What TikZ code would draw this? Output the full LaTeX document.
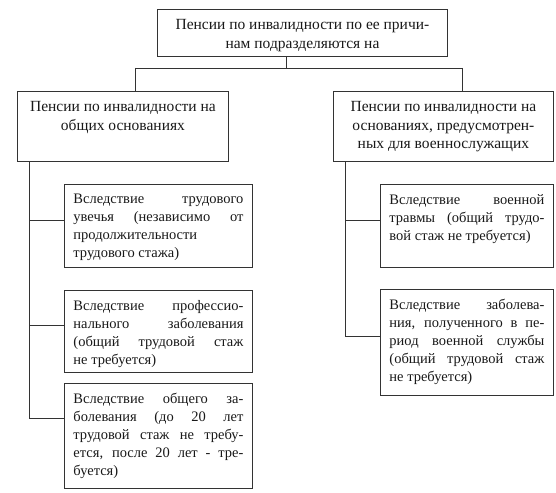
\documentclass[tikz,border=0pt]{standalone}
\usepackage{fontspec}
\setmainfont{Liberation Serif}
\newcommand{\boxtext}[3]{\parbox[t][#2][t]{#1}{\vspace*{10pt}#3}}
\begin{document}
\begin{tikzpicture}[x=1pt,y=-1pt]
        \tikzstyle{box}=[draw=black!80,line width=0.9pt,fill=white,inner xsep=9pt,inner ysep=0pt,anchor=north west,text=black!90,font=\fontsize{14.5}{18}\selectfont]
        \tikzstyle{head}=[box,font=\fontsize{15.5}{18.5}\selectfont]
        \tikzstyle{edge}=[draw=black!80,line width=0.9pt]
        \fill[white] (0,0) rectangle (556,492);
        \useasboundingbox (0,0) rectangle (556,492);
        % top
        \node [head] (top) at (157,9) {\boxtext{272pt}{47pt}{\centering Пенсии по инвалидности по ее причи-\\нам подразделяются на}};
        % two kinds
        \node [head] (gen) at (17,91) {\boxtext{193pt}{70pt}{\centering Пенсии по инвалидности на\\общих основаниях}};
        \node [head] (mil) at (333,91) {\boxtext{202pt}{70pt}{\centering Пенсии по инвалидности на\\основаниях, предусмотрен-\\ных для военнослужащих}};
        % general causes
        \node [box] (gen1) at (64,184) {\boxtext{170pt}{83pt}{Вследствие трудового\linebreak увечья (независимо от\linebreak продолжительности\newline трудового стажа)}};
        \node [box] (gen2) at (64,290) {\boxtext{170pt}{82pt}{Вследствие профессио-\linebreak нального заболевания\linebreak (общий трудовой стаж\linebreak не требуется)}};
        \node [box] (gen3) at (64,383) {\boxtext{170pt}{105pt}{Вследствие общего за-\linebreak болевания (до 20 лет\linebreak трудовой стаж не требу-\linebreak ется, после 20 лет - тре-\linebreak буется)}};
        % military causes
        \node [box] (mil1) at (380,184) {\boxtext{155pt}{83pt}{Вследствие военной\linebreak травмы (общий трудо-\linebreak вой стаж не требуется)}};
        \node [box] (mil2) at (380,289) {\boxtext{155pt}{106pt}{Вследствие заболева-\linebreak ния, полученного в пе-\linebreak риод военной службы\linebreak (общий трудовой стаж\linebreak не требуется)}};
        % joints
        \coordinate (top-j) at (286,68);
        \coordinate (gen-j) at (135,68);
        \coordinate (mil-j) at (462,68);
        \coordinate (gen-b1) at (29,220);
        \coordinate (gen-b2) at (29,325);
        \coordinate (gen-b3) at (29,418);
        \coordinate (mil-b1) at (345,220);
        \coordinate (mil-b2) at (345,336);
        \path[edge] (top-j |- top.south) -- (top-j);
        \path[edge] (gen-j) -- (mil-j);
        \path[edge] (gen-j) -- (gen-j |- gen.north);
        \path[edge] (mil-j) -- (mil-j |- mil.north);
        \path[edge] (gen-b3 |- gen.south) -- (gen-b3);
        \path[edge] (mil-b2 |- mil.south) -- (mil-b2);
        \foreach \i in {1,2,3}
           \path[edge] (gen-b\i) -- (gen-b\i -| gen\i.west);
        \foreach \i in {1,2}
           \path[edge] (mil-b\i) -- (mil-b\i -| mil\i.west);
\end{tikzpicture}
\end{document}
